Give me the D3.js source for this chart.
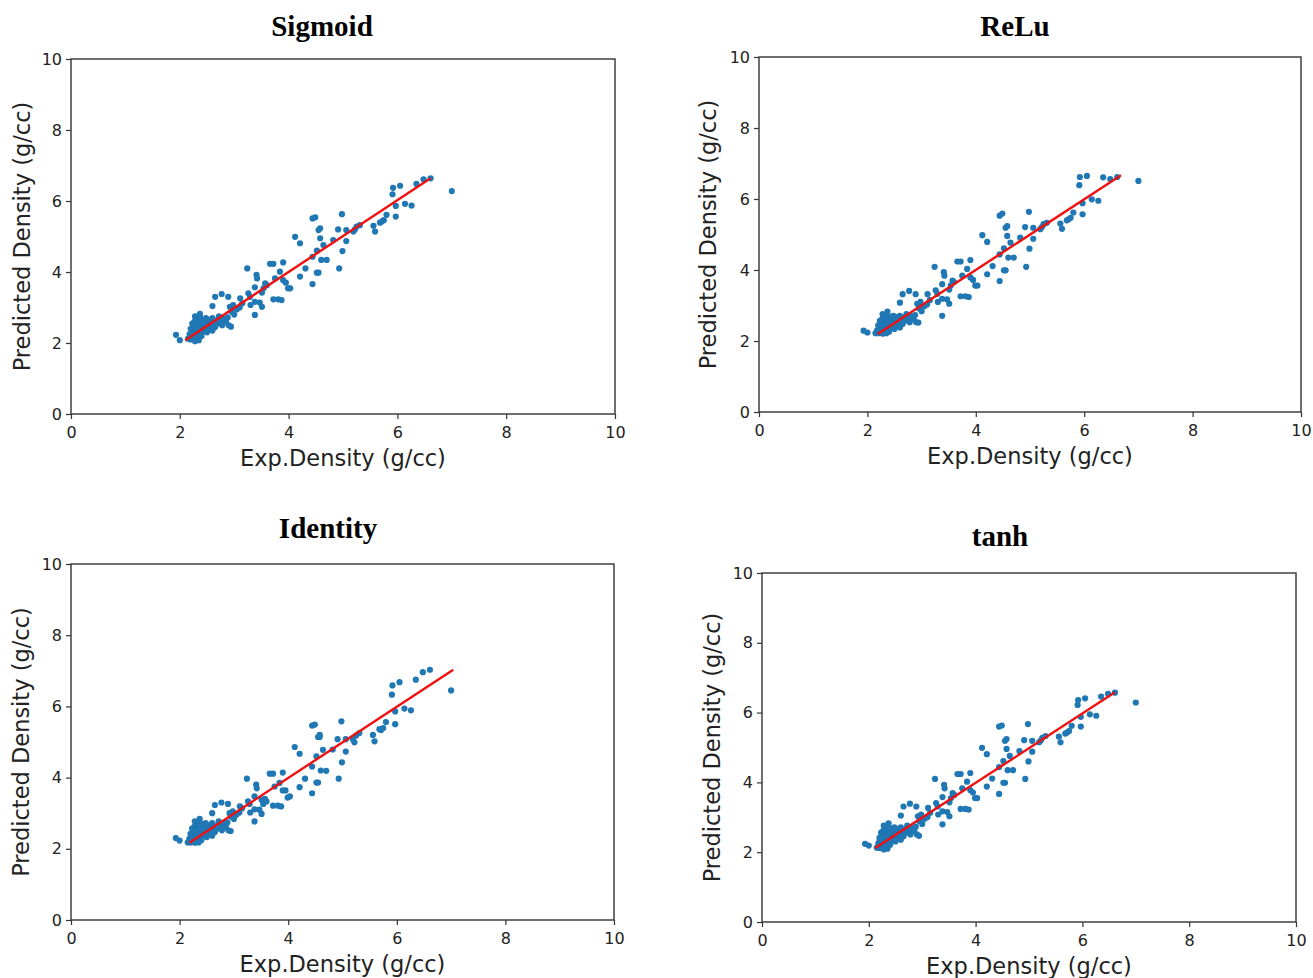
<!DOCTYPE html>
<html>
<head>
<meta charset="utf-8">
<script src="https://cdn.jsdelivr.net/npm/d3@7"></script>
<style>
  html, body { margin: 0; padding: 0; background: #fff; }
  svg { display: block; }
</style>
</head>
<body>
<svg id="chart" width="1313" height="978"></svg>
<script>
// ---------------- DATA ----------------
const panelTitles = ["Sigmoid", "ReLu", "Identity", "tanh"];
const tickValues = [0, 2, 4, 6, 8, 10];
const xLabel = "Exp.Density (g/cc)";
const yLabel = "Predicted Density (g/cc)";

// Experimental density (shared by all four panels)
const expDensity = [
  7.00,6.61,6.48,6.35,6.05,5.92,5.91,6.26,6.14,5.97,
  5.97,5.80,5.75,5.71,5.68,5.59,5.56,5.31,5.25,5.22,
  5.19,4.98,5.06,5.06,4.99,4.91,4.93,4.82,4.70,4.60,
  4.64,4.58,4.55,4.58,4.49,4.44,4.52,4.44,4.55,4.52,
  4.44,4.31,4.21,4.21,4.12,4.03,3.99,3.90,3.90,3.95,
  3.84,3.72,3.66,3.75,3.81,3.87,3.72,3.60,3.54,3.57,
  3.41,3.42,3.38,3.51,3.24,3.26,3.29,3.38,3.51,3.30,
  3.38,3.11,2.89,2.77,2.65,2.98,2.92,2.95,2.60,2.94,
  1.93,2.00,3.47,3.10,3.05,3.15,3.00,
  2.15,2.20,2.25,2.30,2.18,2.22,2.28,2.30,2.25,2.20,
  2.32,2.35,2.38,2.30,2.28,2.40,2.42,2.45,2.50,2.48,
  2.52,2.55,2.58,2.60,2.62,2.65,2.68,2.70,2.72,2.75,
  2.78,2.80,2.35,2.40,2.45,2.50,2.55,2.60,2.33,2.27,
  2.36,2.44,2.46,2.52,2.42,2.38,2.23,2.85,2.88,2.90,
  2.20,2.26,2.32,2.40,2.48,2.56,2.64,2.70,2.35,2.28,
  2.37
];

const predSigmoid = [
  6.28,6.64,6.61,6.48,6.43,6.37,6.19,5.87,5.92,5.86,
  5.56,5.61,5.46,5.42,5.39,5.14,5.30,5.32,5.28,5.20,
  5.14,5.63,5.18,4.87,4.59,5.20,4.10,4.90,4.34,4.34,
  4.76,4.95,5.18,5.23,5.54,5.51,4.60,4.43,3.98,3.98,
  3.66,4.10,3.87,4.81,4.99,3.54,3.54,4.27,3.77,3.70,
  4.01,4.23,4.23,3.82,3.23,3.21,3.23,3.63,3.54,3.68,
  3.92,3.82,3.57,3.42,4.10,3.40,3.30,3.16,3.02,3.07,
  2.79,3.26,3.30,3.38,3.30,3.07,3.02,2.88,3.04,2.46,
  2.23,2.08,3.14,3.00,2.95,3.12,2.80,
  2.12,2.10,2.15,2.12,2.25,2.30,2.35,2.45,2.50,2.40,
  2.55,2.60,2.70,2.65,2.75,2.50,2.40,2.60,2.55,2.70,
  2.45,2.65,2.50,2.70,2.58,2.45,2.62,2.55,2.75,2.60,
  2.50,2.68,2.30,2.20,2.35,2.30,2.40,2.35,2.20,2.60,
  2.45,2.55,2.45,2.62,2.65,2.58,2.55,2.60,2.72,2.50,
  2.20,2.22,2.38,2.32,2.42,2.52,2.50,2.65,2.08,2.05,
  2.82
];

const predReLu = [
  6.51,6.62,6.56,6.61,6.65,6.62,6.39,5.95,5.99,5.88,
  5.57,5.62,5.47,5.43,5.40,5.16,5.31,5.33,5.29,5.21,
  5.15,5.64,5.19,4.88,4.60,5.21,4.09,4.91,4.35,4.35,
  4.77,4.96,5.19,5.24,5.59,5.53,4.61,4.44,3.99,3.99,
  3.69,4.11,3.88,4.79,4.98,3.56,3.56,4.28,3.79,3.72,
  4.03,4.24,4.24,3.84,3.26,3.24,3.26,3.66,3.57,3.70,
  3.94,3.84,3.60,3.45,4.09,3.43,3.33,3.19,3.05,3.10,
  2.71,3.32,3.32,3.41,3.32,3.10,3.05,2.92,3.08,2.52,
  2.29,2.24,3.17,3.03,2.98,3.15,2.84,
  2.22,2.22,2.24,2.22,2.30,2.34,2.38,2.48,2.52,2.44,
  2.57,2.62,2.71,2.67,2.76,2.53,2.44,2.62,2.58,2.71,
  2.48,2.67,2.53,2.71,2.60,2.48,2.64,2.58,2.76,2.62,
  2.53,2.70,2.34,2.26,2.38,2.34,2.44,2.38,2.26,2.62,
  2.48,2.57,2.48,2.64,2.67,2.60,2.57,2.62,2.73,2.53,
  2.26,2.27,2.41,2.36,2.45,2.54,2.53,2.67,2.22,2.21,
  2.83
];

const predIdentity = [
  6.45,7.03,6.96,6.75,6.68,6.59,6.33,5.89,5.94,5.86,
  5.50,5.56,5.39,5.34,5.36,5.02,5.20,5.25,5.18,4.99,
  5.08,5.58,5.08,4.73,4.43,5.08,3.97,4.79,4.19,4.20,
  4.78,5.14,5.14,5.20,5.49,5.46,4.60,4.31,3.86,3.86,
  3.56,3.97,3.73,4.67,4.86,3.47,3.44,4.14,3.64,3.64,
  3.85,4.11,4.11,3.75,3.21,3.19,3.21,3.33,3.26,3.40,
  3.80,3.70,3.47,3.38,3.97,3.33,3.26,3.11,2.98,3.02,
  2.77,3.19,3.26,3.30,3.23,3.05,3.00,2.90,3.00,2.50,
  2.30,2.23,3.10,3.02,2.96,3.14,2.84,
  2.18,2.18,2.20,2.19,2.28,2.32,2.37,2.47,2.52,2.42,
  2.57,2.62,2.72,2.66,2.77,2.52,2.43,2.62,2.57,2.72,
  2.47,2.66,2.52,2.72,2.60,2.47,2.64,2.57,2.77,2.62,
  2.52,2.70,2.33,2.24,2.37,2.33,2.42,2.37,2.24,2.62,
  2.47,2.57,2.47,2.64,2.66,2.60,2.57,2.62,2.74,2.52,
  2.24,2.25,2.40,2.35,2.44,2.54,2.52,2.66,2.18,2.17,
  2.84
];

const predTanh = [
  6.29,6.57,6.54,6.46,6.41,6.36,6.22,5.91,5.95,5.88,
  5.60,5.62,5.47,5.43,5.40,5.15,5.31,5.33,5.28,5.20,
  5.15,5.67,5.19,4.88,4.60,5.21,4.10,4.90,4.35,4.35,
  4.76,4.96,5.19,5.24,5.63,5.60,4.61,4.44,3.99,3.99,
  3.67,4.11,3.88,4.81,4.99,3.55,3.55,4.27,3.78,3.71,
  4.02,4.24,4.24,3.83,3.24,3.22,3.24,3.64,3.55,3.69,
  3.93,3.83,3.58,3.43,4.10,3.41,3.31,3.17,3.03,3.08,
  2.80,3.27,3.31,3.39,3.31,3.08,3.03,2.89,3.05,2.47,
  2.24,2.19,3.15,3.01,2.96,3.13,2.81,
  2.13,2.12,2.16,2.13,2.26,2.31,2.36,2.46,2.51,2.41,
  2.56,2.61,2.71,2.66,2.76,2.51,2.41,2.61,2.56,2.71,
  2.46,2.66,2.51,2.71,2.59,2.46,2.63,2.56,2.76,2.61,
  2.51,2.69,2.31,2.21,2.36,2.31,2.41,2.36,2.21,2.61,
  2.46,2.56,2.46,2.63,2.66,2.59,2.56,2.61,2.73,2.51,
  2.21,2.23,2.39,2.33,2.43,2.53,2.51,2.66,2.10,2.08,
  2.83
];

// Red fit line end points [x, y]
const fitSigmoid  = [[2.10, 2.08], [6.61, 6.64]];
const fitReLu     = [[2.19, 2.20], [6.68, 6.67]];
const fitIdentity = [[2.18, 2.17], [7.04, 7.03]];
const fitTanh     = [[2.12, 2.12], [6.61, 6.58]];

// ---------------- LAYOUT ----------------
const panels = [
  { title: panelTitles[0], pred: predSigmoid,  fit: fitSigmoid,  box: { l: 71,  r: 615,  t: 59,  b: 414 }, titleX: 322,  titleY: 36,  yLabOff: 41 },
  { title: panelTitles[1], pred: predReLu,     fit: fitReLu,     box: { l: 759, r: 1301, t: 57,  b: 412 }, titleX: 1015, titleY: 36,  yLabOff: 43 },
  { title: panelTitles[2], pred: predIdentity, fit: fitIdentity, box: { l: 71,  r: 614,  t: 564, b: 920 }, titleX: 328,  titleY: 538, yLabOff: 42 },
  { title: panelTitles[3], pred: predTanh,     fit: fitTanh,     box: { l: 762, r: 1296, t: 573, b: 922 }, titleX: 1000, titleY: 546, yLabOff: 42 }
];

const svg = d3.select("#chart");
const axisColor = "#333";
const tickFont = "'DejaVu Sans', sans-serif";

panels.forEach(p => {
  const { l, r, t, b } = p.box;
  const x = d3.scaleLinear().domain([0, 10]).range([l, r]);
  const y = d3.scaleLinear().domain([0, 10]).range([b, t]);
  const g = svg.append("g");

  // title
  g.append("text")
    .attr("x", p.titleX).attr("y", p.titleY)
    .attr("text-anchor", "middle")
    .attr("font-family", "'Liberation Serif', 'Times New Roman', serif")
    .attr("font-weight", "bold")
    .attr("font-size", 29)
    .attr("fill", "#000")
    .text(p.title);

  // scatter points
  const pts = expDensity.map((e, i) => [e, p.pred[i]]);
  g.append("g").selectAll("circle").data(pts).join("circle")
    .attr("cx", d => x(d[0])).attr("cy", d => y(d[1]))
    .attr("r", 3.1)
    .attr("fill", "#1f77b4");

  // fit line
  g.append("line")
    .attr("x1", x(p.fit[0][0])).attr("y1", y(p.fit[0][1]))
    .attr("x2", x(p.fit[1][0])).attr("y2", y(p.fit[1][1]))
    .attr("stroke", "#f01010").attr("stroke-width", 2.4);

  // axes
  const xAxis = d3.axisBottom(x).tickValues(tickValues).tickFormat(d3.format("d")).tickSize(5).tickPadding(8);
  const yAxis = d3.axisLeft(y).tickValues(tickValues).tickFormat(d3.format("d")).tickSize(5).tickPadding(4);

  const gx = g.append("g").attr("transform", `translate(0,${b})`).call(xAxis);
  const gy = g.append("g").attr("transform", `translate(${l},0)`).call(yAxis);
  [gx, gy].forEach(a => {
    a.select(".domain").remove();
    a.selectAll(".tick line").attr("stroke", axisColor).attr("stroke-width", 1.2);
    a.selectAll(".tick text").attr("font-family", tickFont).attr("font-size", 16).attr("fill", "#222");
  });

  // frame (spines)
  g.append("rect")
    .attr("x", l).attr("y", t).attr("width", r - l).attr("height", b - t)
    .attr("fill", "none").attr("stroke", axisColor).attr("stroke-width", 1.4);

  // axis labels
  g.append("text")
    .attr("x", (l + r) / 2 - 0).attr("y", b + 52)
    .attr("text-anchor", "middle")
    .attr("font-family", tickFont).attr("font-size", 22.5).attr("fill", "#222")
    .text(xLabel);
  g.append("text")
    .attr("transform", `translate(${l - p.yLabOff},${(t + b) / 2}) rotate(-90)`)
    .attr("text-anchor", "middle")
    .attr("font-family", tickFont).attr("font-size", 22.5).attr("fill", "#222")
    .text(yLabel);
});
</script>
</body>
</html>
